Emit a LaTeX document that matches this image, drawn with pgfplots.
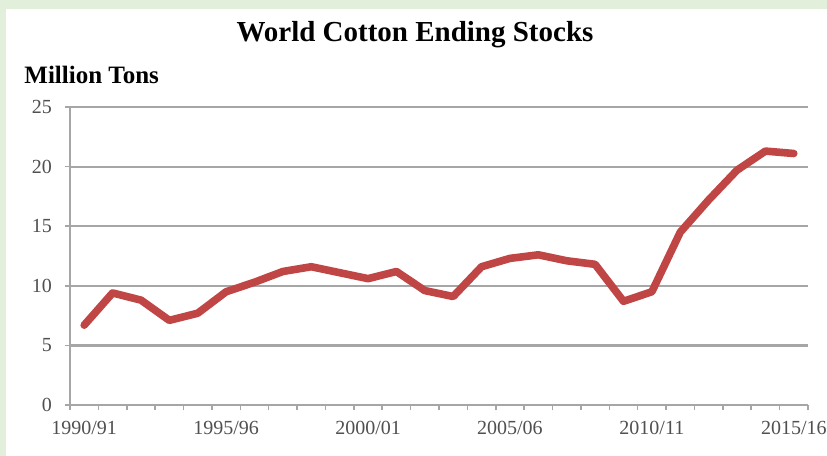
\documentclass[border=0pt]{standalone}
\usepackage{pgfplots}
\pgfplotsset{compat=1.18}
\usepackage{fontspec}
\setmainfont{Liberation Serif}
\definecolor{bggreen}{HTML}{E2EFDA}
\definecolor{linered}{HTML}{BF4644}
\definecolor{gridgray}{HTML}{A6A6A6}
\definecolor{labelgray}{HTML}{505050}
\begin{document}
\begin{tikzpicture}[x=1pt,y=1pt]
\path[use as bounding box] (0,0) rectangle (413.5,228);
\fill[bggreen] (0,0) rectangle (413.5,228);
\fill[white] (3,0) rectangle (413.5,223.5);
\node[font=\bfseries\fontsize{14.5}{16}\selectfont] at (207.5,210.5) {World Cotton Ending Stocks};
\node[font=\bfseries\fontsize{12.5}{14}\selectfont, anchor=west, inner sep=0pt] at (12,190.5) {Million Tons};
\begin{axis}[
  at={(35pt,25.5pt)}, anchor=south west, scale only axis,
  width=369pt, height=149pt,
  xmin=-0.5, xmax=25.5, ymin=0, ymax=25,
  axis x line=bottom, axis y line=left,
  axis line style={gridgray, line width=1.1pt, -},
  ytick={0,5,...,25},
  ymajorgrids, grid style={gridgray, line width=1.1pt},
  xtick={0,5,10,15,20,25},
  xticklabels={1990/91,1995/96,2000/01,2005/06,2010/11,2015/16},
  minor xtick={-0.5,0.5,...,25.5},
  tick align=outside,
  major tick length=2.5pt, minor tick length=2.5pt,
  tick style={gridgray, line width=0.8pt},
  major x tick style={draw=none},
  /pgf/number format/assume math mode=true,
  ticklabel style={font=\fontsize{10}{12}\selectfont, text=labelgray},
  yticklabel style={xshift=-3pt},
  xticklabel style={yshift=-2pt},
  clip=false,
]
\addplot[linered, line width=3.8pt, line join=round, line cap=round] coordinates {
(0,6.7) (1,9.4) (2,8.8) (3,7.1) (4,7.7) (5,9.5) (6,10.3) (7,11.2) (8,11.6)
(9,11.1) (10,10.6) (11,11.2) (12,9.6) (13,9.1) (14,11.6) (15,12.3) (16,12.6)
(17,12.1) (18,11.8) (19,8.7) (20,9.5) (21,14.5) (22,17.2) (23,19.7) (24,21.3) (25,21.1)
};
\end{axis}
\end{tikzpicture}
\end{document}
